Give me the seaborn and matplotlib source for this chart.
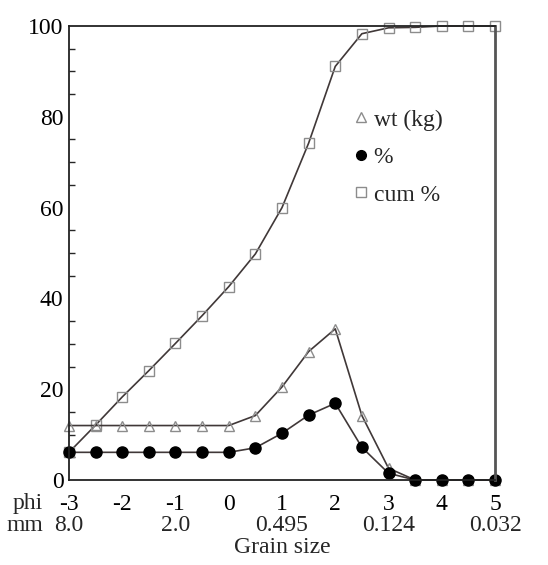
import matplotlib
matplotlib.use("Agg")
import matplotlib.pyplot as plt
from matplotlib.lines import Line2D
from matplotlib.ticker import MultipleLocator
import seaborn as sns
import pandas as pd

phi = [-3, -2.5, -2, -1.5, -1, -0.5, 0, 0.5, 1, 1.5, 2, 2.5, 3, 3.5, 4, 4.5, 5]
wt_kg = [12, 12, 12, 12, 12, 12, 12, 14.2, 20.5, 28.3, 33.3, 14.2, 2.6, 0, 0, 0, 0]
pct = [6.1, 6.1, 6.1, 6.1, 6.1, 6.1, 6.1, 7.1, 10.3, 14.3, 16.9, 7.2, 1.5, 0, 0, 0, 0]
cum_pct = [6.1, 12.1, 18.3, 24.1, 30.1, 36.2, 42.6, 49.8, 60, 74.2, 91.1, 98.3, 99.6, 99.7, 100, 100, 100]

phi_ticks = [-3, -2, -1, 0, 1, 2, 3, 4, 5]
phi_labels = ["-3", "-2", "-1", "0", "1", "2", "3", "4", "5"]
mm_ticks = [-3, -1, 1, 3, 5]
mm_labels = ["8.0", "2.0", "0.495", "0.124", "0.032"]
y_ticks = [0, 20, 40, 60, 80, 100]

sns.set_style("white")
plt.rcParams["font.family"] = ["Liberation Serif", "DejaVu Serif"]
plt.rcParams["axes.unicode_minus"] = False

df = pd.DataFrame({"phi": phi, "wt": wt_kg, "pct": pct, "cum": cum_pct})

fig = plt.figure(figsize=(5.48, 5.65), dpi=100)
ax = fig.add_axes([0.1259, 0.1504, 0.7774, 0.8036])

fs = 17
line_c = "#403838"
gray = "#8c8c8c"
sns.lineplot(data=df, x="phi", y="cum", ax=ax, color=line_c, lw=1.2,
             marker="s", markersize=7, markerfacecolor="none",
             markeredgecolor=gray, markeredgewidth=1.0, clip_on=False)
sns.lineplot(data=df, x="phi", y="wt", ax=ax, color=line_c, lw=1.2,
             marker="^", markersize=7.5, markerfacecolor="none",
             markeredgecolor=gray, markeredgewidth=1.0, clip_on=False)
sns.lineplot(data=df, x="phi", y="pct", ax=ax, color=line_c, lw=1.2,
             marker="o", markersize=8, markerfacecolor="black",
             markeredgecolor="black", markeredgewidth=1.0, clip_on=False)

ax.set_xlim(-3, 5)
ax.set_ylim(0, 100)
ax.set_yticks(y_ticks)
ax.yaxis.set_minor_locator(MultipleLocator(5))
ax.set_yticklabels([str(v) for v in y_ticks], fontsize=fs)
ax.set_xticks(phi_ticks)
ax.set_xticklabels(phi_labels, fontsize=fs)
ax.tick_params(axis="both", which="major", direction="in", length=6, width=1.2, colors="black", pad=4)
ax.tick_params(axis="y", which="minor", direction="in", length=4, width=1.0, left=True)
ax.tick_params(axis="x", which="major", pad=10)
ax.set_ylabel("")
ax.set_xlabel("")

for s in ["left", "bottom", "top"]:
    ax.spines[s].set_color("#222222")
    ax.spines[s].set_linewidth(1.3)
ax.spines["right"].set_color("#555555")
ax.spines["right"].set_linewidth(2.0)

# second label row (mm) and row titles
trans = ax.get_xaxis_transform()
for xv, lab in zip(mm_ticks, mm_labels):
    ax.text(xv, -0.1, lab, transform=trans, ha="center", va="center", fontsize=fs)
ax.text(-0.061, -0.052, "phi", transform=ax.transAxes, ha="right", va="center", fontsize=fs)
ax.text(-0.061, -0.1, "mm", transform=ax.transAxes, ha="right", va="center", fontsize=fs)
ax.text(0.5, -0.149, "Grain size", transform=ax.transAxes, ha="center", va="center", fontsize=fs)

handles = [
    Line2D([], [], linestyle="none", marker="^", markersize=7, markerfacecolor="none", markeredgecolor=gray),
    Line2D([], [], linestyle="none", marker="o", markersize=7, markerfacecolor="black", markeredgecolor="black"),
    Line2D([], [], linestyle="none", marker="s", markersize=6.5, markerfacecolor="none", markeredgecolor=gray),
]
ax.legend(handles, ["wt (kg)", "%", "cum %"], loc="upper left", bbox_to_anchor=(0.64, 0.838),
          frameon=False, fontsize=fs, handlelength=0.8, handletextpad=0.15, labelspacing=0.68,
          borderaxespad=0)

fig.savefig("out.png", dpi=100)
